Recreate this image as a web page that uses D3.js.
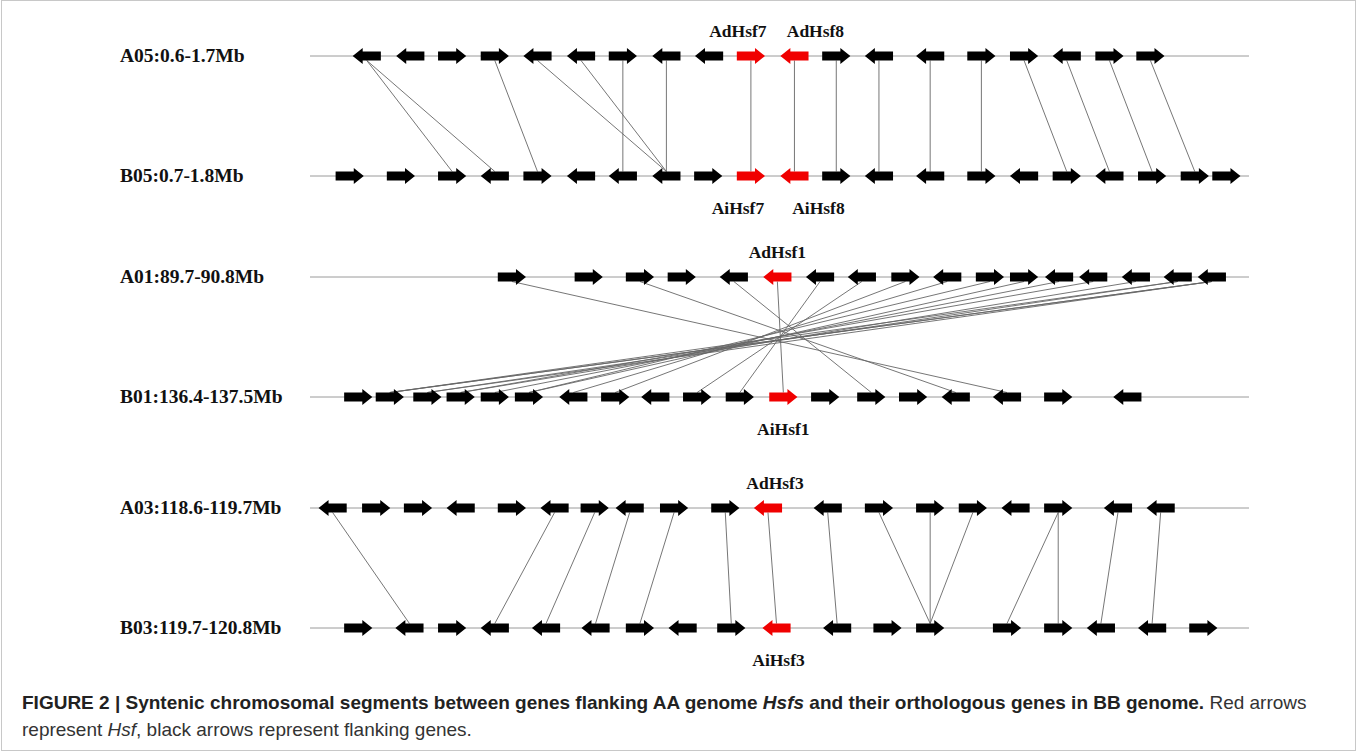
<!DOCTYPE html>
<html>
<head>
<meta charset="utf-8">
<script src="https://cdn.jsdelivr.net/npm/d3@7"></script>
<style>
  body { margin: 0; background: #fff; }
  svg { display: block; }
</style>
</head>
<body>
<svg id="chart" width="1357" height="752"></svg>
<script>
// segment length in kb (every segment spans 1.1 Mb)
const segmentKb = [0, 1100];

const topLabels = ["A05:0.6-1.7Mb", "A01:89.7-90.8Mb", "A03:118.6-119.7Mb"];
const bottomLabels = ["B05:0.7-1.8Mb", "B01:136.4-137.5Mb", "B03:119.7-120.8Mb"];

// genes: [start kb, strand]
const a05Genes = [[50,-1],[101,-1],[150,1],[200,1],[250,-1],[301,-1],[350,1],[401,-1],[451,-1],[500,1],[551,-1],[600,1],[650,-1],[710,-1],[770,1],[820,1],[870,-1],[920,1],[968,1]];
const b05Genes = [[30,1],[90,1],[150,1],[200,-1],[250,1],[301,-1],[350,-1],[401,-1],[450,1],[500,1],[551,-1],[600,1],[650,-1],[710,-1],[770,1],[820,-1],[870,1],[920,-1],[970,1],[1020,1],[1057,1]];
const a01Genes = [[220,1],[310,1],[370,1],[419,1],[480,-1],[531,-1],[581,-1],[630,-1],[681,1],[730,-1],[780,1],[820,1],[861,-1],[901,-1],[951,-1],[1000,-1],[1040,-1]];
const b01Genes = [[40,1],[77,1],[121,1],[160,1],[200,1],[240,1],[292,-1],[341,1],[388,-1],[437,1],[487,1],[538,1],[587,1],[641,1],[690,1],[740,-1],[800,-1],[860,1],[941,-1]];
const a03Genes = [[10,-1],[61,1],[110,1],[160,-1],[220,1],[270,-1],[317,1],[358,-1],[410,1],[470,1],[520,-1],[590,-1],[650,1],[710,1],[760,1],[810,-1],[860,1],[930,-1],[980,-1]];
const b03Genes = [[40,1],[100,-1],[150,1],[200,-1],[260,-1],[318,-1],[370,1],[420,-1],[477,1],[530,-1],[601,-1],[660,1],[710,1],[800,1],[860,1],[910,-1],[970,-1],[1030,1]];

// Hsf gene pairs: [top gene index, bottom gene index]
const hsf05 = [[9, 9], [10, 10]];
const hsf01 = [[5, 11]];
const hsf03 = [[10, 9]];

// Hsf names, [top, bottom]
const hsfNames05 = [["AdHsf7", "AiHsf7"], ["AdHsf8", "AiHsf8"]];
const hsfNames01 = [["AdHsf1", "AiHsf1"]];
const hsfNames03 = [["AdHsf3", "AiHsf3"]];

// syntenic links: [top gene index, bottom gene index]
const links05 = [[0,2],[0,3],[3,4],[4,7],[5,7],[6,6],[7,7],[9,9],[10,10],[11,11],[12,12],[13,13],[14,14],[15,16],[16,17],[17,18],[18,19]];
const links01 = [[0,16],[2,15],[4,13],[5,11],[6,10],[7,9],[8,7],[9,6],[10,5],[11,5],[12,4],[13,3],[14,3],[15,2],[16,2],[15,1],[16,1],[16,1]];
const links03 = [[0,1],[5,3],[6,4],[7,5],[8,6],[9,8],[10,9],[11,10],[12,12],[13,12],[14,12],[16,13],[16,14],[17,15],[18,16]];

const captionBold = "FIGURE 2 | Syntenic chromosomal segments between genes flanking AA genome ";
const captionRest = ["Red arrows", "represent ", "Hsf", ", black arrows represent flanking genes."];

// ---- layout
const width = 1357, height = 752;
const svg = d3.select("#chart");

const xScale = d3.scaleLinear(segmentKb, [310, 1249]);
const geneKb = 33;
const bodyH = 9, headH = 16, headW = 10;
const serif = "'Liberation Serif', 'Times New Roman', serif";
const sans = "'Liberation Sans', Arial, sans-serif";

const panels = [
  { top: a05Genes, bottom: b05Genes, links: links05, yTop: 56, yBottom: 176,
    hsf: hsf05, names: hsfNames05, labelDx: [[-13, -13], [21, 24]] },
  { top: a01Genes, bottom: b01Genes, links: links01, yTop: 277, yBottom: 397,
    hsf: hsf01, names: hsfNames01, labelDx: [[0, 0]] },
  { top: a03Genes, bottom: b03Genes, links: links03, yTop: 508, yBottom: 628,
    hsf: hsf03, names: hsfNames03, labelDx: [[7, 2]] }
];

// frame
svg.append("rect")
  .attr("x", 1.5).attr("y", 0.5)
  .attr("width", width - 3).attr("height", height - 2)
  .attr("fill", "none").attr("stroke", "#c8c8c8");

function arrowPath(g, y) {
  const x0 = xScale(g[0]), x1 = xScale(g[0] + geneKb);
  const p = d3.path();
  if (g[1] > 0) {
    const xh = x1 - headW;
    p.moveTo(x0, y - bodyH / 2);
    p.lineTo(xh, y - bodyH / 2);
    p.lineTo(xh, y - headH / 2);
    p.lineTo(x1, y);
    p.lineTo(xh, y + headH / 2);
    p.lineTo(xh, y + bodyH / 2);
    p.lineTo(x0, y + bodyH / 2);
  } else {
    const xh = x0 + headW;
    p.moveTo(x1, y - bodyH / 2);
    p.lineTo(xh, y - bodyH / 2);
    p.lineTo(xh, y - headH / 2);
    p.lineTo(x0, y);
    p.lineTo(xh, y + headH / 2);
    p.lineTo(xh, y + bodyH / 2);
    p.lineTo(x1, y + bodyH / 2);
  }
  p.closePath();
  return p.toString();
}

const mid = (g) => xScale(g[0] + geneKb / 2);

panels.forEach((panel, pi) => {
  const gp = svg.append("g");

  // chromosome lines
  [panel.yTop, panel.yBottom].forEach((y) => {
    gp.append("line")
      .attr("x1", xScale(segmentKb[0])).attr("x2", xScale(segmentKb[1]))
      .attr("y1", y).attr("y2", y)
      .attr("stroke", "#9a9a9a").attr("stroke-width", 1);
  });

  // links
  gp.selectAll(".link")
    .data(panel.links)
    .join("line")
    .attr("class", "link")
    .attr("x1", (d) => mid(panel.top[d[0]]))
    .attr("y1", panel.yTop + bodyH / 2)
    .attr("x2", (d) => mid(panel.bottom[d[1]]))
    .attr("y2", panel.yBottom - bodyH / 2)
    .attr("stroke", "#666")
    .attr("stroke-width", 0.9);

  const redTop = new Set(panel.hsf.map((h) => h[0]));
  const redBottom = new Set(panel.hsf.map((h) => h[1]));

  gp.selectAll(".gtop")
    .data(panel.top)
    .join("path")
    .attr("class", "gtop")
    .attr("d", (d) => arrowPath(d, panel.yTop))
    .attr("fill", (d, i) => (redTop.has(i) ? "#f00000" : "#000"));

  gp.selectAll(".gbot")
    .data(panel.bottom)
    .join("path")
    .attr("class", "gbot")
    .attr("d", (d) => arrowPath(d, panel.yBottom))
    .attr("fill", (d, i) => (redBottom.has(i) ? "#f00000" : "#000"));

  // chromosome labels
  [[topLabels[pi], panel.yTop], [bottomLabels[pi], panel.yBottom]].forEach(([t, y]) => {
    gp.append("text")
      .attr("x", 120).attr("y", y + 6)
      .attr("font-family", serif)
      .attr("font-weight", "bold")
      .attr("font-size", 19.5)
      .attr("fill", "#111")
      .text(t);
  });

  // Hsf names
  panel.hsf.forEach((h, k) => {
    const [nTop, nBottom] = panel.names[k];
    gp.append("text")
      .attr("x", mid(panel.top[h[0]]) + panel.labelDx[k][0])
      .attr("y", panel.yTop - 19)
      .attr("text-anchor", "middle")
      .attr("font-family", serif)
      .attr("font-weight", "bold").attr("font-size", 17.5)
      .attr("fill", "#111")
      .text(nTop);
    gp.append("text")
      .attr("x", mid(panel.bottom[h[1]]) + panel.labelDx[k][1])
      .attr("y", panel.yBottom + 38)
      .attr("text-anchor", "middle")
      .attr("font-family", serif)
      .attr("font-weight", "bold").attr("font-size", 17.5)
      .attr("fill", "#111")
      .text(nBottom);
  });
});

// caption
const cap = svg.append("text")
  .attr("x", 22).attr("y", 709)
  .attr("font-family", sans)
  .attr("font-size", 19)
  .attr("fill", "#333");
cap.append("tspan").attr("font-weight", "bold").attr("fill", "#222").text(captionBold);
cap.append("tspan").attr("font-weight", "bold").attr("font-style", "italic").attr("fill", "#222").text("Hsfs");
cap.append("tspan").attr("font-weight", "bold").attr("fill", "#222")
  .text(" and their orthologous genes in BB genome.");
cap.append("tspan").text(" " + captionRest[0]);

const cap2 = svg.append("text")
  .attr("x", 22).attr("y", 736)
  .attr("font-family", sans)
  .attr("font-size", 19)
  .attr("fill", "#333");
cap2.append("tspan").text(captionRest[1]);
cap2.append("tspan").attr("font-style", "italic").text(captionRest[2]);
cap2.append("tspan").text(captionRest[3]);
</script>
</body>
</html>
